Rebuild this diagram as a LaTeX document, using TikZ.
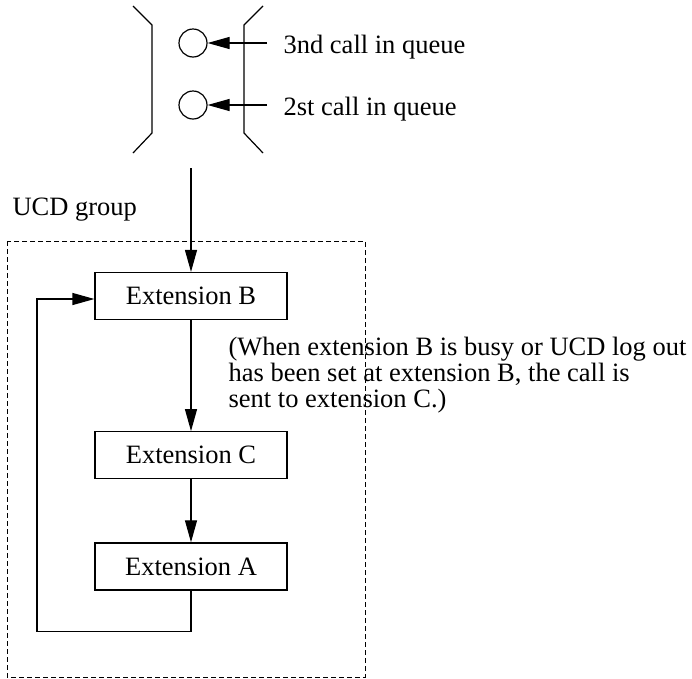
\documentclass[tikz,border=0pt]{standalone}
\usepackage{fontspec}
\setmainfont{Liberation Serif}
\usetikzlibrary{arrows.meta,positioning}

\def\boxgap{111pt}

\begin{document}
\begin{tikzpicture}[x=1pt,y=-1pt,line width=1.2pt,font=\fontsize{26.5}{26}\selectfont]
    \tikzstyle{ext}=[draw,rectangle,minimum width=192pt,minimum height=47pt,inner sep=0pt]
    \tikzstyle{call}=[draw,circle,minimum size=28pt,inner sep=0pt]
    \tikzstyle{arr}=[-{Triangle[length=22pt,width=12pt]}]
    \tikzstyle{annot}=[inner sep=0pt]
    \useasboundingbox (0,0) rectangle (692,678);

    % Draw the queue brackets
    \draw (133,6) -- (152,25) -- (152,133) -- (133,153);
    \draw (263,6) -- (244,25) -- (244,133) -- (263,153);

    % Draw the calls waiting in the queue
    \foreach \name / \y / \txt in {3/43/3nd, 2/105/2st}
    {
        \node[call] (Q-\name) at (193,\y) {};
        \coordinate (P-\name) at (267,\y);
        \node[annot,anchor=base west] (T-\name) at (283,\y+10) {\txt\ call in queue};
        \draw[arr] (P-\name) -- (Q-\name);
    }

    % Draw the extensions of the UCD group
    \node[ext] (B) at (191,296) {Extension B};
    \node[ext,below=\boxgap of B] (C) {Extension C};
    \node[ext,below=63pt of C] (A) {Extension A};

    % The group frame
    \draw[dash pattern=on 5pt off 3pt,line width=1pt] (7,241) rectangle (365,677);
    \node[annot,anchor=base west] (grp) at (12,215) {UCD group};

    % Connect the queue and the extensions
    \coordinate (in) at (191,168);
    \draw[arr] (in) -- (B);
    \draw[arr] (B) -- (C);
    \draw[arr] (C) -- (A);
    \draw[arr] (A.south) -- ++(0,41) -| (37,299) -- (B.west |- 0,299);

    % Annotate the hunting
    \node[annot,anchor=north west,align=left] (note) at (228,337)
        {(When extension B is busy or UCD log out\\
         has been set at extension B, the call is\\
         sent to extension C.)};

\end{tikzpicture}
\end{document}
